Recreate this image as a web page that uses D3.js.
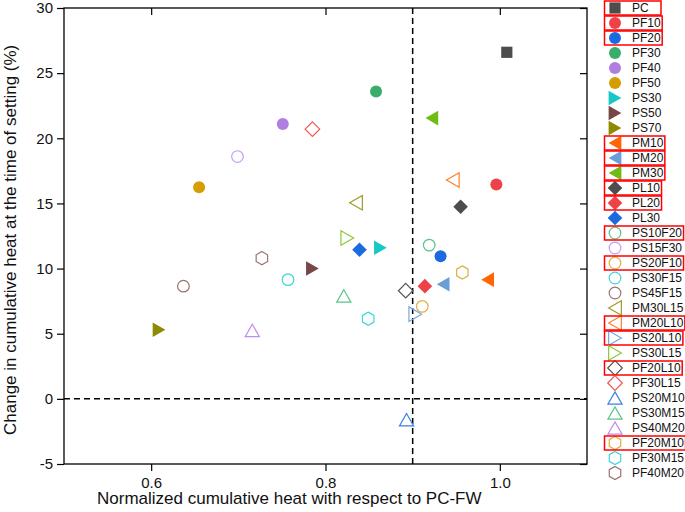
<!DOCTYPE html>
<html>
<head>
<meta charset="utf-8">
<script src="https://cdn.jsdelivr.net/npm/d3@7"></script>
<style>
  html, body { margin: 0; padding: 0; background: #fff; }
  svg { display: block; font-family: "Liberation Sans", Arial, Helvetica, sans-serif; }
</style>
</head>
<body>
<svg id="chart" width="685" height="512"></svg>
<script>
// ---- data ----
const names = ["PC","PF10","PF20","PF30","PF40","PF50","PS30","PS50","PS70","PM10","PM20","PM30",
  "PL10","PL20","PL30","PS10F20","PS15F30","PS20F10","PS30F15","PS45F15","PM30L15","PM20L10",
  "PS20L10","PS30L15","PF20L10","PF30L15","PS20M10","PS30M15","PS40M20","PF20M10","PF30M15","PF40M20"];
const xValues = [1.008,0.996,0.932,0.858,0.751,0.655,0.863,0.785,0.609,0.986,0.935,0.922,
  0.955,0.914,0.839,0.919,0.699,0.911,0.757,0.637,0.835,0.946,
  0.903,0.825,0.892,0.785,0.893,0.821,0.716,0.957,0.849,0.727];
const yValues = [26.6,16.45,10.95,23.6,21.1,16.25,11.6,10.0,5.3,9.15,8.8,21.55,
  14.75,8.65,11.45,11.8,18.6,7.1,9.15,8.65,15.05,16.8,
  6.5,12.35,8.3,20.7,-1.6,7.9,5.25,9.7,6.15,10.8];
const highlighted = ["PC","PF10","PF20","PM10","PM20","PM30","PL10","PL20","PS10F20","PS20F10",
  "PM20L10","PS20L10","PF20L10","PF20M10"];
const xTicks = [0.6, 0.8, 1.0];
const yTicks = [-5, 0, 5, 10, 15, 20, 25, 30];
const xRefLine = 0.9;
const yRefLine = 0;

// ---- styles ----
const shapes = ["square","circle","circle","circle","circle","circle","triR","triR","triR","triL","triL","triL",
  "diamond","diamond","diamond","circle","circle","circle","circle","circle","triL","triL",
  "triR","triR","diamond","diamond","triU","triU","triU","hex","hex","hex"];
const filled = names.map((n,i) => i < 15);
const colors = ["#4d4d4d","#ee4148","#1c6ae0","#38ad6c","#b07ee0","#d49e00","#18c8c8","#774646","#8e8b00",
  "#ff6600","#6a9ed6","#6fba13","#4d4d4d","#ee4148","#1c6ae0","#5cc48a","#c79cf2","#e0b040","#3ed6dc",
  "#9c7272","#a09a2a","#ff7f2a","#78a8e0","#8cc83a","#555555","#f25555","#3a80e6","#5cc48a","#c08cf0",
  "#e0b040","#3ed6dc","#9c7272"];

function markerPath(shape) {
  switch (shape) {
    case "square": { const h = 5.6; return `M${-h},${-h}H${h}V${h}H${-h}Z`; }
    case "circle": return null;
    case "diamond": { const h = 7.3; return `M0,${-h}L${h},0L0,${h}L${-h},0Z`; }
    case "triR": { const w = 12.7, hh = 7.3; return `M${-w/2},${-hh}L${w/2},0L${-w/2},${hh}Z`; }
    case "triL": { const w = 12.7, hh = 7.3; return `M${w/2},${-hh}L${-w/2},0L${w/2},${hh}Z`; }
    case "triU": { const hw = 7.1, h = 12.3; return `M0,${-h/2}L${hw},${h/2}L${-hw},${h/2}Z`; }
    case "hex": {
      const r = 6.6; let p = "";
      for (let k = 0; k < 6; k++) {
        const a = -Math.PI/2 + k*Math.PI/3;
        p += (k ? "L" : "M") + (r*Math.cos(a)).toFixed(2) + "," + (r*Math.sin(a)).toFixed(2);
      }
      return p + "Z";
    }
  }
}
function drawMarker(g, i) {
  const shape = shapes[i], c = colors[i], f = filled[i];
  const r = f ? 6 : 5.8;
  let el;
  if (shape === "circle") el = g.append("circle").attr("r", r);
  else el = g.append("path").attr("d", markerPath(shape));
  el.attr("fill", f ? c : "none").attr("stroke", f ? "none" : c).attr("stroke-width", 1.2);
}

// ---- layout ----
const svg = d3.select("#chart");
const L = 64, R = 587, T = 8, B = 464;
const x = d3.scaleLinear().domain([0.5, 1.1]).range([L, R]);
const y = d3.scaleLinear().domain([-5, 30]).range([B, T]);

// reference dashed lines
svg.append("line").attr("x1", x(xRefLine)).attr("x2", x(xRefLine)).attr("y1", T).attr("y2", B)
  .attr("stroke", "#000").attr("stroke-width", 1.5).attr("stroke-dasharray", "6,4");
svg.append("line").attr("x1", L).attr("x2", R).attr("y1", y(yRefLine)).attr("y2", y(yRefLine))
  .attr("stroke", "#000").attr("stroke-width", 1.5).attr("stroke-dasharray", "6,4");

// axes
const fontTick = 15;
const gB = svg.append("g").attr("transform", `translate(0,${B})`)
  .call(d3.axisBottom(x).tickValues(xTicks).tickFormat(d => d.toFixed(1)).tickSize(7).tickPadding(6));
const gT = svg.append("g").attr("transform", `translate(0,${T})`)
  .call(d3.axisBottom(x).tickValues(xTicks).tickFormat("").tickSize(7));
const gL = svg.append("g").attr("transform", `translate(${L},0)`)
  .call(d3.axisLeft(y).tickValues(yTicks).tickFormat(d => String(d)).tickSize(7).tickPadding(4));
const gR = svg.append("g").attr("transform", `translate(${R},0)`)
  .call(d3.axisLeft(y).tickValues(yTicks).tickFormat("").tickSize(7));
[gB, gT, gL, gR].forEach(g => {
  g.select(".domain").remove();
  g.selectAll(".tick line").attr("stroke", "#000").attr("stroke-width", 1.2);
  g.selectAll(".tick text").attr("font-size", fontTick).attr("fill", "#111")
    .attr("font-family", "'Liberation Sans', Arial, sans-serif");
});
svg.append("rect").attr("x", L).attr("y", T).attr("width", R - L).attr("height", B - T)
  .attr("fill", "none").attr("stroke", "#000").attr("stroke-width", 1.3);

// points
names.forEach((n, i) => {
  const g = svg.append("g").attr("transform", `translate(${x(xValues[i])},${y(yValues[i])})`);
  drawMarker(g, i);
});

// axis titles
svg.append("text").attr("x", 97).attr("y", 504).attr("font-size", 17).attr("fill", "#111")
  .text("Normalized cumulative heat with respect to PC-FW");
svg.append("text").attr("transform", "translate(16,435) rotate(-90)").attr("font-size", 17).attr("fill", "#111")
  .text("Change in cumulative heat at the time of setting (%)");

// legend
const legX = 615, legTextX = 632, legY0 = 8, legStep = 15;
names.forEach((n, i) => {
  const cy = legY0 + i * legStep;
  const g = svg.append("g").attr("transform", `translate(${legX},${cy})`);
  drawMarker(g, i);
  const t = svg.append("text").attr("x", legTextX).attr("y", cy + 4.3).attr("font-size", 12)
    .attr("fill", "#111").text(n);
  if (highlighted.includes(n)) {
    const w = t.node().getComputedTextLength();
    const right = Math.max(legTextX + w + 1.5, 661);
    svg.append("rect").attr("x", 604.5).attr("y", cy - 7).attr("width", right - 604.5).attr("height", 14)
      .attr("fill", "none").attr("stroke", "#ff0000").attr("stroke-width", 1.5);
  }
});
</script>
</body>
</html>
